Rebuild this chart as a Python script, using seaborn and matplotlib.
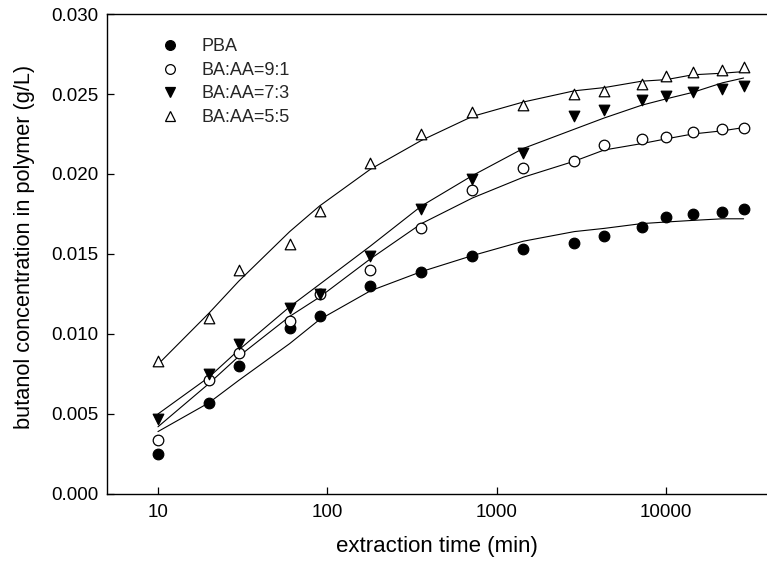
import matplotlib
matplotlib.use("Agg")
import matplotlib.pyplot as plt
import matplotlib.ticker as mticker
import seaborn as sns
import pandas as pd

# ---- data ----
time_min = [10, 20, 30, 60, 90, 180, 360, 720, 1440, 2880, 4320, 7200,
            10080, 14400, 21600, 28800]

series_names = ["PBA", "BA:AA=9:1", "BA:AA=7:3", "BA:AA=5:5"]

pba = [0.0025, 0.0057, 0.0080, 0.0104, 0.0111, 0.0130, 0.0139, 0.0149,
       0.0153, 0.0157, 0.0161, 0.0167, 0.0173, 0.0175, 0.0176, 0.0178]
ba_aa_91 = [0.0034, 0.0071, 0.0088, 0.0108, 0.0125, 0.0140, 0.0166, 0.0190,
            0.0204, 0.0208, 0.0218, 0.0222, 0.0223, 0.0226, 0.0228, 0.0229]
ba_aa_73 = [0.0047, 0.0075, 0.0094, 0.0116, 0.0125, 0.0149, 0.0178, 0.0197,
            0.0213, 0.0236, 0.0240, 0.0246, 0.0249, 0.0251, 0.0253, 0.0255]
ba_aa_55 = [0.0083, 0.0110, 0.0140, 0.0156, 0.0177, 0.0207, 0.0225, 0.0239,
            0.0243, 0.0250, 0.0252, 0.0256, 0.0261, 0.0264, 0.0265, 0.0267]

# fitted curves (at the same times)
fit_pba = [0.0039, 0.0057, 0.0071, 0.0094, 0.0109, 0.0127, 0.0139, 0.0149,
           0.0158, 0.0164, 0.0166, 0.0169, 0.0170, 0.0171, 0.0172, 0.0172]
fit_91 = [0.0042, 0.0069, 0.0086, 0.0111, 0.0123, 0.0147, 0.0169, 0.0185,
          0.0198, 0.0208, 0.0215, 0.0219, 0.0222, 0.0225, 0.0227, 0.0229]
fit_73 = [0.0050, 0.0073, 0.0090, 0.0117, 0.0131, 0.0155, 0.0180, 0.0199,
          0.0216, 0.0228, 0.0235, 0.0243, 0.0247, 0.0251, 0.0257, 0.0260]
fit_55 = [0.0081, 0.0113, 0.0133, 0.0164, 0.0180, 0.0203, 0.0221, 0.0236,
          0.0245, 0.0252, 0.0254, 0.0258, 0.0259, 0.0262, 0.0263, 0.0264]

x_ticks = [10, 100, 1000, 10000]
x_tick_labels = ["10", "100", "1000", "10000"]
y_ticks = [0.000, 0.005, 0.010, 0.015, 0.020, 0.025, 0.030]

# ---- styling ----
sns.set_theme(style="white")
plt.rcParams["font.family"] = ["Liberation Sans", "DejaVu Sans"]

fig = plt.figure(figsize=(7.67, 5.74), dpi=100)
ax = fig.add_axes([0.1395, 0.1394, 0.8605 + 0.001, 0.9756 - 0.1394])

points = [pba, ba_aa_91, ba_aa_73, ba_aa_55]
fits = [fit_pba, fit_91, fit_73, fit_55]
markers = ["o", "o", "v", "^"]
faces = ["black", "white", "black", "white"]

for fit in fits:
    sns.lineplot(x=time_min, y=fit, ax=ax, color="black", linewidth=0.8,
                 legend=False, zorder=2)

handles = []
for name, vals, mk, fc in zip(series_names, points, markers, faces):
    df = pd.DataFrame({"t": time_min, "c": vals})
    sns.scatterplot(data=df, x="t", y="c", ax=ax, marker=mk, s=58,
                    facecolor=fc, edgecolor="black", linewidth=0.9,
                    legend=False, zorder=3)
    h = plt.Line2D([], [], linestyle="none", marker=mk, markersize=7.0,
                   markerfacecolor=fc, markeredgecolor="black",
                   markeredgewidth=0.9)
    handles.append(h)

ax.set_xscale("log")
ax.set_xlim(5, 40000)
ax.set_ylim(0, 0.030)
ax.xaxis.set_major_locator(mticker.FixedLocator(x_ticks))
ax.xaxis.set_major_formatter(mticker.FixedFormatter(x_tick_labels))
ax.xaxis.set_minor_locator(mticker.NullLocator())
ax.set_yticks(y_ticks)
ax.yaxis.set_major_formatter(mticker.FormatStrFormatter("%.3f"))

ax.tick_params(axis="x", direction="in", length=5, width=0.9, pad=7.3,
               labelsize=13.5, colors="black", bottom=True)
ax.tick_params(axis="y", direction="in", length=5, width=0.9, pad=6.3,
               labelsize=13.5, colors="black", left=True)

for side in ["left", "bottom", "top"]:
    ax.spines[side].set_visible(True)
    ax.spines[side].set_color("black")
    ax.spines[side].set_linewidth(1.0)
ax.spines["right"].set_visible(False)

ax.set_xlabel("extraction time (min)", fontsize=16, color="black", labelpad=11)
ax.set_ylabel("butanol concentration in polymer (g/L)", fontsize=15.7,
              color="black", labelpad=10)
ax.yaxis.set_label_coords(-0.109, 0.515)

ax.legend(handles, series_names, loc="upper left",
          bbox_to_anchor=(0.081, 0.949), frameon=False, fontsize=13,
          handlelength=1.0, handletextpad=1.29, labelspacing=0.36,
          borderpad=0, borderaxespad=0)

fig.savefig("out.png", dpi=100)
